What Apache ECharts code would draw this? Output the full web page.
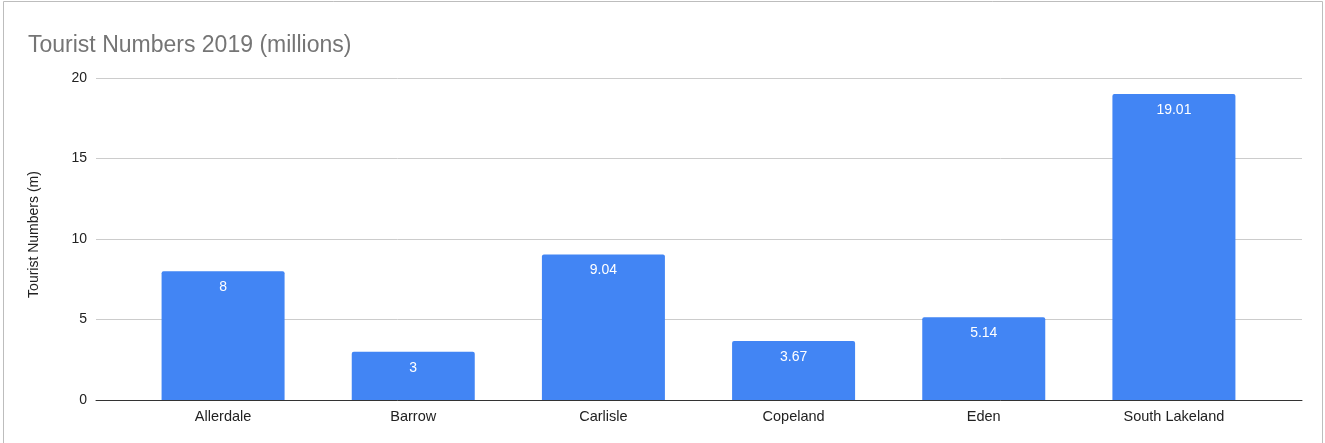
<!DOCTYPE html>
<html>
<head>
<meta charset="utf-8">
<script src="https://cdn.jsdelivr.net/npm/echarts@6/dist/echarts.min.js"></script>
<style>
html,body{margin:0;padding:0;background:#fff;}
#chart{width:1325px;height:443px;}
</style>
</head>
<body>
<div id="chart"></div>
<script>
const categories = ['Allerdale', 'Barrow', 'Carlisle', 'Copeland', 'Eden', 'South Lakeland'];
const touristNumbers = [8, 3, 9.04, 3.67, 5.14, 19.01];
const yTicks = [0, 5, 10, 15, 20];

const FONT = '"Liberation Sans", Arial, sans-serif';
const chart = echarts.init(document.getElementById('chart'), null, {renderer: 'canvas'});
const yMin = yTicks[0], yMax = yTicks[yTicks.length - 1];

chart.setOption({
  animation: false,
  backgroundColor: '#ffffff',
  title: {
    text: 'Tourist Numbers 2019 (millions)',
    left: 23, top: 29,
    textStyle: {fontFamily: FONT, fontSize: 23, fontWeight: 'normal', color: '#757575'}
  },
  graphic: [{
    type: 'rect', silent: true, z: -10,
    shape: {x: 3.5, y: 1.5, width: 1319, height: 460},
    style: {fill: 'none', stroke: '#bdbdbd', lineWidth: 1}
  }],
  grid: [
    {left: 96, right: 23, top: 78, bottom: 43},
    {left: 128, right: 56, top: 78, bottom: 43}
  ],
  xAxis: [
    {
      gridIndex: 0, type: 'value', min: 0, max: 1,
      axisLine: {show: true, onZero: false, lineStyle: {color: '#333333', width: 1}},
      axisTick: {show: false}, axisLabel: {show: false}, splitLine: {show: false}
    },
    {
      gridIndex: 1, type: 'category', data: categories,
      axisLine: {show: false}, axisTick: {show: false},
      axisLabel: {fontFamily: FONT, fontSize: 14.5, color: '#222222', margin: 9}
    }
  ],
  yAxis: [
    {
      gridIndex: 0, type: 'value', min: yMin, max: yMax, interval: 5,
      name: 'Tourist Numbers (m)', nameLocation: 'middle', nameGap: 55,
      nameTextStyle: {fontFamily: FONT, fontSize: 14, color: '#222222', padding: [0, 0, 0, 9]},
      axisLine: {show: false}, axisTick: {show: false},
      axisLabel: {fontFamily: FONT, fontSize: 14, color: '#222222', margin: 9},
      splitLine: {lineStyle: {color: '#cccccc', width: 1}}
    },
    {
      gridIndex: 1, type: 'value', min: yMin, max: yMax, interval: 5,
      axisLine: {show: false}, axisTick: {show: false},
      axisLabel: {show: false}, splitLine: {show: false}
    }
  ],
  series: [{
    type: 'bar',
    xAxisIndex: 1, yAxisIndex: 1,
    data: touristNumbers,
    barWidth: 123,
    itemStyle: {color: '#4285F4', borderRadius: [2, 2, 0, 0]},
    label: {
      show: true, position: 'insideTop', distance: 9,
      fontFamily: FONT, fontSize: 14, color: '#ffffff'
    },
    z: 3
  }]
});
</script>
</body>
</html>
